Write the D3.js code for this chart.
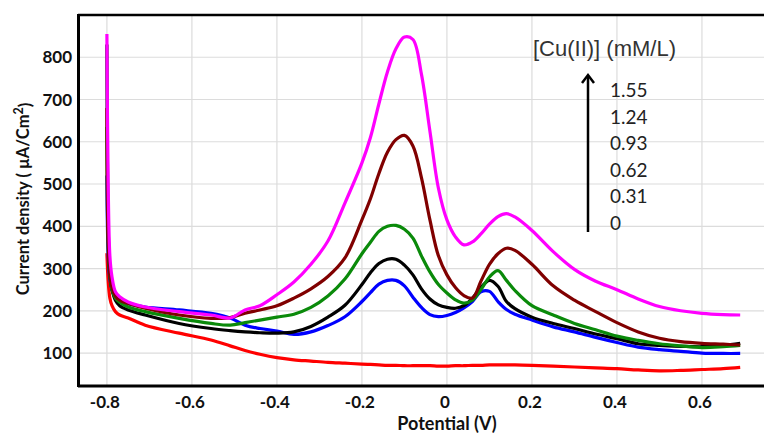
<!DOCTYPE html>
<html>
<head>
<meta charset="utf-8">
<script src="https://cdn.jsdelivr.net/npm/d3@7/dist/d3.min.js"></script>
<style>
	body { margin: 0; background: #fff; }
	svg { display: block; }
</style>
</head>
<body>
<div id="chart"></div>
<script>

// potential grid (V), shared by every curve
let potential = [-0.8, -0.797, -0.793, -0.788, -0.78, -0.77, -0.75, -0.71, -0.63, -0.555,
	-0.51, -0.475, -0.44, -0.4, -0.36, -0.32, -0.28, -0.24, -0.2, -0.18,
	-0.16, -0.14, -0.12, -0.1, -0.08, -0.06, -0.04, -0.02, 0, 0.02,
	0.04, 0.06, 0.08, 0.1, 0.12, 0.14, 0.16, 0.2, 0.25, 0.3,
	0.35, 0.4, 0.45, 0.5, 0.55, 0.6, 0.65, 0.69];

// current density (uA/cm2) for each Cu(II) concentration
let cu000 = [336, 270, 230, 212, 198, 190, 183, 166, 147, 131,
	117, 106, 97, 89, 84, 81, 78, 76, 74, 73,
	72, 71, 71, 70, 70, 70, 70, 69, 69, 70,
	70, 71, 71, 72, 72, 72, 72, 71, 69, 67,
	65, 63, 60, 58, 59, 61, 63, 66];

let cu031 = [520, 330, 275, 250, 232, 225, 217, 209, 202, 194,
	183, 166, 158, 152, 144, 150, 165, 186, 222, 243,
	263, 272, 272, 259, 232, 208, 191, 186, 189, 196,
	207, 222, 245, 246, 222, 203, 192, 178, 162, 150,
	137, 125, 114, 108, 104, 100, 99, 99];

let cu062 = [830, 400, 290, 250, 225, 212, 202, 190, 170, 158,
	153, 150, 148, 147, 150, 163, 185, 213, 262, 290,
	312, 322, 322, 308, 285, 252, 228, 214, 208, 206,
	212, 230, 255, 272, 258, 222, 205, 185, 170, 158,
	145, 134, 122, 118, 116, 115, 118, 123];

let cu093 = [635, 350, 280, 250, 230, 220, 209, 198, 182, 170,
	166, 172, 178, 185, 192, 208, 235, 275, 335, 362,
	388, 400, 402, 393, 372, 330, 292, 262, 242, 226,
	218, 225, 250, 280, 295, 272, 248, 212, 190, 170,
	155, 140, 130, 122, 117, 113, 115, 118];

let cu124 = [680, 360, 285, 255, 235, 225, 217, 206, 190, 182,
	184, 194, 202, 212, 230, 252, 281, 325, 415, 465,
	525, 575, 605, 615, 590, 515, 415, 330, 285, 255,
	236, 230, 270, 310, 335, 348, 343, 310, 259, 225,
	198, 172, 150, 135, 127, 123, 121, 119];

let cu155 = [855, 500, 330, 280, 245, 233, 221, 209, 198, 190,
	183, 202, 212, 238, 268, 310, 365, 455, 550, 610,
	690, 765, 820, 848, 842, 760, 625, 490, 415, 375,
	356, 363, 382, 405, 423, 430, 422, 390, 340, 298,
	270, 250, 228, 210, 200, 194, 191, 190];

let seriesValues = [cu000, cu031, cu062, cu093, cu124, cu155];
let seriesColors = ["#ff0000", "#0000ff", "#000000", "#0a8a0a", "#800000", "#ff00ff"];

let xTicks = [-0.8, -0.6, -0.4, -0.2, 0, 0.2, 0.4, 0.6];
let yTicks = [100, 200, 300, 400, 500, 600, 700, 800];
let legendLabels = ["1.55", "1.24", "0.93", "0.62", "0.31", "0"];

let width = 764;
let height = 435;

let plotLeft = 78, plotRight = 764, plotTop = 15, plotBottom = 386;

let svg = d3.select("#chart")
	.append("svg")
		.attr("width", width)
		.attr("height", height);

let x = d3.scaleLinear().domain([-0.868, 0.746]).range([plotLeft, plotRight]);
let y = d3.scaleLinear().domain([22, 900]).range([plotBottom, plotTop]);

// grid
let grid = svg.append("g").attr("stroke", "#dcdcdc").attr("stroke-width", 1.2);

grid.selectAll("line.v")
	.data(xTicks)
	.enter()
		.append("line")
		.attr("class", "v")
		.attr("x1", d => x(d)).attr("x2", d => x(d))
		.attr("y1", plotTop).attr("y2", plotBottom);

grid.selectAll("line.h")
	.data(yTicks)
	.enter()
		.append("line")
		.attr("class", "h")
		.attr("x1", plotLeft).attr("x2", plotRight)
		.attr("y1", d => y(d)).attr("y2", d => y(d));

// curves
let line = d3.line()
	.x((d, i) => x(potential[i]))
	.y(d => y(d))
	.curve(d3.curveCatmullRom.alpha(0.5));

svg.append("g")
	.selectAll("path")
	.data(seriesValues)
	.enter()
		.append("path")
		.attr("d", d => line(d))
		.attr("fill", "none")
		.attr("stroke", (d, i) => seriesColors[i])
		.attr("stroke-width", 3.2)
		.attr("stroke-linejoin", "round");

// frame
let frame = svg.append("g").attr("stroke", "#000");

frame.append("line")
	.attr("x1", plotLeft).attr("x2", plotRight).attr("y1", plotTop).attr("y2", plotTop)
	.attr("stroke-width", 2.5);

frame.append("line")
	.attr("x1", plotLeft + 0.5).attr("x2", plotLeft + 0.5).attr("y1", plotTop - 1).attr("y2", plotBottom + 1)
	.attr("stroke-width", 3);

frame.append("line")
	.attr("x1", plotLeft).attr("x2", plotRight).attr("y1", plotBottom).attr("y2", plotBottom)
	.attr("stroke-width", 3);

// tick labels
svg.append("g")
	.selectAll("text")
	.data(xTicks)
	.enter()
		.append("text")
		.attr("x", d => x(d) - 2)
		.attr("y", 408)
		.attr("text-anchor", "middle")
		.style("font", "bold 17px Lato")
		.attr("fill", "#111")
		.text(d => String(d));

svg.append("g")
	.selectAll("text")
	.data(yTicks)
	.enter()
		.append("text")
		.attr("x", 72)
		.attr("y", d => y(d))
		.attr("dy", "0.36em")
		.attr("text-anchor", "end")
		.style("font", "bold 17px Lato")
		.attr("fill", "#111")
		.text(d => d);

// axis titles
svg.append("text")
	.attr("x", 447)
	.attr("y", 430)
	.attr("text-anchor", "middle")
	.style("font", "bold 18px Lato")
	.attr("fill", "#111")
	.text("Potential (V)");

let yTitle = svg.append("text")
	.attr("transform", "translate(29, 199) rotate(-90)")
	.attr("text-anchor", "middle")
	.style("font", "bold 16.5px Lato")
	.attr("fill", "#111");

yTitle.append("tspan").text("Current density ( µA/Cm");
yTitle.append("tspan").attr("dy", "-0.5em").style("font-size", "12.5px").text("2");
yTitle.append("tspan").attr("dy", "0.5em").text(")");

// concentration legend
svg.append("text")
	.attr("x", 533)
	.attr("y", 56)
	.style("font", "22px 'Liberation Sans'")
	.attr("fill", "#333")
	.text("[Cu(II)] (mM/L)");

svg.append("g")
	.selectAll("text")
	.data(legendLabels)
	.enter()
		.append("text")
		.attr("x", 610)
		.attr("y", (d, i) => 97 + i * 26.6)
		.style("font", "19px Lato")
		.attr("fill", "#222")
		.text(d => d);

svg.append("line")
	.attr("x1", 588).attr("x2", 588).attr("y1", 232).attr("y2", 76)
	.attr("stroke", "#000").attr("stroke-width", 2.5);

svg.append("path")
	.attr("d", "M582,83 L588,75 L594,83")
	.attr("fill", "none")
	.attr("stroke", "#000")
	.attr("stroke-width", 2.5);

</script>
</body>
</html>
